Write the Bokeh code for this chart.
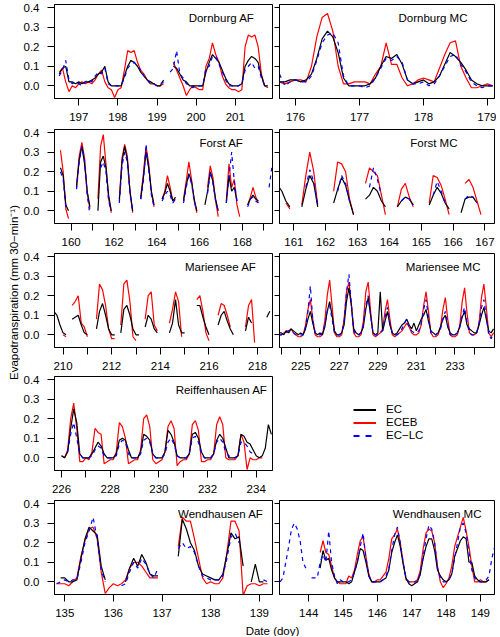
import numpy as np
from math import pi
from bokeh.plotting import figure
from bokeh.models import (Range1d, FixedTicker, Label, Legend, LegendItem,
                          CustomJSTickFormatter, PrintfTickFormatter)
from bokeh.layouts import row, column
from bokeh.embed import file_html
from bokeh.resources import INLINE

N = None

# ---------------- data (half-hourly series, resampled) ----------------
# Dornburg AF: start doy 196.5, 2-hour step
dornburg_af_start, dornburg_af_step = 196.5, 1 / 12
dornburg_af_ec = [.06, .09, .10, .02, .02, .01, .02, .01, .02, .02, .03, .04, .06,
                  .07, .10, .02, .00, .00, .00, .00,
                  .05, .10, .13, .12, .10, .07, .05, .03, .02, .01,
                  .00, .00, .03, N, N, .10, .09, .06, .03, .02,
                  .00, .00, .00, .00, .00, .07, .12, .16, .14, .12,
                  .08, .04, .01, .00, .00, .00, .01, .10, .13, .15,
                  .14, .12, .05, .00, .00]
dornburg_af_eceb = [.07, .09, .02, -.03, .00, -.01, .01, .02, .01, .02, .01, .03, .06,
                    .08, .02, -.01, -.02, -.06, -.02, -.01,
                    .08, .18, .17, .18, .12, .08, .06, .03, .01, .01,
                    .00, .00, .01, N, N, .12, .08, .04, .00, -.05,
                    -.02, .00, -.01, -.02, -.02, .10, .14, .22, .16, .12,
                    .05, .01, -.01, -.02, -.02, -.03, -.02, .20, .26, .25,
                    .26, .20, .06, .00, -.01]
dornburg_af_eclc = [.05, .08, .13, .03, .01, .02, .01, .00, .02, .03, .02, .05, .07,
                    .06, .09, .01, .00, .00, .00, .00,
                    .04, .09, .11, .12, .10, .08, .05, .03, .01, .01,
                    .00, .01, .02, N, .07, .09, .18, .06, .04, .01,
                    .00, -.01, .00, .00, .00, .09, .10, .15, .15, .11,
                    .07, .03, .00, .00, .00, .00, .01, .08, .10, .12,
                    .09, .10, .04, .00, .00]

# Dornburg MC: start 175.75, 2-hour step
dornburg_mc_start, dornburg_mc_step = 175.75, 1 / 12
dornburg_mc_ec = [.02, .02, .03, .03, .02, .03, .06, .14, .24, .28,
                  .25, .17, .04, .00, .00, .00, .00, .01, .04, .10,
                  .15, .14, .16, .11, .03, .01, .02, .03, .01, .02,
                  .05, .11, .17, .15, .12, .08, .03, .01, .00, .00, .00]
dornburg_mc_eceb = [.02, .01, .02, .03, .03, .02, .10, .25, .35, .37,
                    .28, .10, .01, .01, .02, .02, .02, .01, .06, .10,
                    .22, .11, .11, .04, .00, .01, .03, .04, .03, .02,
                    .09, .16, .22, .23, .10, .04, -.01, -.01, .00, .01, .00]
dornburg_mc_eclc = [.06, .00, .02, .03, .02, .02, .05, .13, .22, .26,
                    .27, .22, .05, .00, .00, .00, -.01, .00, .04, .09,
                    .14, .13, .15, .12, .03, .01, .01, .02, .00, .01,
                    .05, .10, .15, .16, .11, .07, .02, .00, -.01, .00, .00]

# Forst AF: start 159.5, 3-hour step
forst_af_start, forst_af_step = 159.5, 1 / 8
forst_af_ec = [.22, .18, .03, .00, N, N,
               .12, .26, .33, .24, .10, .02, N, N,
               .00, .25, .28, .22, .08, .00, N, N,
               .05, .25, .33, .26, .10, .00, N, N,
               .06, .17, .30, .22, .10, .03, N, N,
               .06, .09, .14, .10, .05, .07, N, N,
               .05, .13, .19, .15, .06, .00, N, N,
               .03, .10, .20, .15, .06, .00, N, N,
               .04, .18, .10, .12, .05, N, N, N,
               .03, .06, .08, .06, .05, N, N, N, N, N]
forst_af_eceb = [.31, .20, .01, -.04, N, N,
                 .13, .28, .35, .27, .09, .01, N, N,
                 .06, .33, .39, .24, .06, -.01, N, N,
                 .06, .27, .34, .28, .09, -.01, N, N,
                 .07, .19, .33, .24, .09, .02, N, N,
                 .06, .10, .18, .12, .05, .06, N, N,
                 .06, .15, .25, .16, .05, -.01, N, N,
                 N, .12, .23, .17, .05, -.03, N, N,
                 .05, .24, .12, .16, .03, -.03, N, N,
                 .03, .07, .12, .07, .04, N, N, N, N, N]
forst_af_eclc = [.20, .16, .02, N, N, N,
                 .11, .25, .33, .26, .08, -.02, N, N,
                 N, .22, .25, .20, .05, .00, N, N,
                 .04, .23, .30, .25, .09, .00, N, N,
                 .06, .15, .34, .21, .08, .02, N, N,
                 .05, .08, .10, .08, .04, .06, N, N,
                 .04, .12, .18, .14, .05, .00, N, N,
                 N, .09, .20, .14, .05, .00, N, N,
                 .04, .17, .30, .15, .05, N, N, N,
                 .02, .06, .07, .05, .04, N, N, N, .12, .22]

# Forst MC: start 160.5, 3-hour step
forst_mc_start, forst_mc_step = 160.5, 1 / 8
forst_mc_ec = [.13, .10, .05, .02, N, N,
               .02, .11, .18, .14, .02, N, N, N,
               .04, .11, .17, .13, .05, -.02, N, N,
               .06, .08, .12, .10, .05, .02, N, N,
               .02, .05, .07, .06, .03, N, N, N,
               .03, .08, .12, .09, .04, .01, N, N,
               -.01, .06, .07, .07, .04, N]
forst_mc_eceb = [N, N, .04, .01, N, N,
                 .03, .18, .30, .20, .03, N, N, N,
                 .10, .25, .24, .20, .06, -.02, N, N,
                 .14, .22, .20, .18, .08, -.02, N, N,
                 .02, .11, .14, .07, .02, N, N, N,
                 .04, .18, .17, .13, .06, -.02, N, N,
                 N, .14, .16, .12, .05, -.02]
forst_mc_eclc = [N, N, N, N, N, N,
                 N, .12, .21, .15, .03, N, N, N,
                 N, .10, .18, .14, .05, N, N, N,
                 N, .12, .22, .16, .08, N, N, N,
                 N, .05, .07, .06, .03, N, N, N,
                 N, .08, .15, .10, .04, N, N, N,
                 N, .06, .08, .07, .04, N]

# Mariensee AF: start 209.5, 3-hour step (no EC-LC)
mariensee_af_start, mariensee_af_step = 209.5, 1 / 8
mariensee_af_ec = [N, .12, .10, .05, .01, .00, N, .08,
                   .09, .10, .05, .01, .00, N, N, .03,
                   .12, .16, .10, .03, .00, .00, N, .01,
                   .13, .15, .10, .03, .00, .00, N, .04,
                   .10, .08, .03, .01, N, N, N, .01,
                   .06, .18, .05, .01, .01, N, N, N,
                   .15, .15, .09, .04, .00, N, N, .05,
                   .10, .12, .07, .03, .00, N, N, N,
                   .02, .09, .06, N, N, N, N, .09, .12]
mariensee_af_eceb = [N, N, N, N, .00, -.01, N, .15,
                     .17, .20, .06, .04, -.01, N, N, .08,
                     .26, .23, .15, .03, -.02, -.02, N, .05,
                     .26, .28, .17, -.01, -.03, N, N, .08,
                     .20, .22, .05, .02, N, N, N, .06,
                     .13, .22, .17, -.01, N, N, N, N,
                     .18, .20, .12, .01, -.03, N, N, .10,
                     .16, .15, .10, .04, N, N, N, N,
                     .04, .15, .18, -.04, N, N, N, N, N]

# Mariensee MC: start 223.875, 3-hour step
mariensee_mc_start, mariensee_mc_step = 223.875, 1 / 8
mariensee_mc_ec = [.01,
                   .01, .00, .02, .01, .03, .02, .01, .00,
                   .01, .00, .03, .08, .12, .06, .01, .00,
                   .01, .00, .04, .12, .17, .10, .02, .00,
                   .00, .01, .05, .17, .24, .15, .03, .01,
                   .00, .01, .04, .13, .19, .10, .01, .00,
                   .01, .22, .02, .07, .12, .05, .01, .00,
                   .01, .03, .05, .06, .08, .05, .03, .06,
                   .02, .05, .08, .10, .13, .07, .02, .01,
                   .00, .01, .04, .08, .10, .04, .01, .00,
                   .00, .01, .04, .09, .12, .05, .03, .02,
                   .01, .01, .05, .10, .14, .08, .02, .01,
                   .03]
mariensee_mc_eceb = [.00,
                     .00, .01, .02, .02, .03, .01, .00, -.01,
                     -.01, .00, .05, .13, .18, .08, .00, -.01,
                     -.01, .00, .07, .20, .28, .15, .01, -.01,
                     -.01, .00, .08, .22, .27, .16, .01, -.01,
                     -.01, .00, .07, .22, .27, .12, .00, -.01,
                     .00, .01, .03, .12, .18, .08, .00, -.01,
                     .00, .01, .02, .04, .06, .04, .01, .00,
                     .00, .01, .05, .15, .22, .12, .01, -.01,
                     -.01, .00, .04, .13, .19, .08, .00, -.01,
                     -.01, .00, .05, .17, .24, .11, .01, .00,
                     .00, .01, .06, .19, .26, .14, .01, -.01,
                     .01]
mariensee_mc_eclc = [.00,
                     .00, .01, .01, .02, .02, .01, .00, .00,
                     .00, .00, .04, .12, .25, .08, .01, .00,
                     .00, .01, .05, .12, .15, .08, .01, .00,
                     .00, .01, .07, .22, .31, .16, .02, .00,
                     .00, .01, .05, .15, .20, .10, .01, .00,
                     .00, .01, .02, .09, .14, .06, .01, .00,
                     .00, .01, .03, .06, .08, .04, .02, .01,
                     .01, .02, .06, .13, .18, .09, .01, .00,
                     .00, .01, .03, .08, .12, .05, .00, .00,
                     .00, .01, .04, .10, .14, .06, .01, .00,
                     .00, .01, .06, .14, .18, .09, .00, -.02,
                     .01]

# Reiffenhausen AF: start 226.0, 3-hour step
reiffenhausen_af_start, reiffenhausen_af_step = 226.0, 1 / 8
reiffenhausen_af_ec = [.01, .00, .03, .15, .25, .18, .02, .00,
                       .00, .00, .02, .05, .08, .06, .02, .00,
                       .00, .00, .02, .09, .10, .09, .04, .00,
                       .00, .00, .03, .12, .11, .09, .02, .00,
                       .00, .00, .03, .14, .12, .08, .01, .00,
                       .00, .00, .02, .12, .13, .10, .03, .00,
                       .00, .00, .02, .09, .12, .10, .05, .00,
                       .00, .00, .01, .12, .11, .08, .07, .04,
                       .01, .00, .01, .05, .17, .12]
reiffenhausen_af_eceb = [.01, .00, .04, .20, .28, .15, -.02, -.02,
                         .00, -.01, .03, .15, .13, .12, -.03, -.02,
                         -.01, -.01, .03, .18, .16, .10, -.03, -.02,
                         -.01, -.01, .04, .20, .22, .16, -.01, -.03,
                         -.02, -.01, .03, .16, .19, .15, -.04, -.02,
                         -.01, -.01, .02, .17, .19, .14, -.02, -.02,
                         -.01, -.01, .02, .17, .21, .17, .00, -.01,
                         -.01, -.01, .01, .12, .08, -.06, .00, -.01,
                         -.01, .00, .00, N, N, N]
reiffenhausen_af_eclc = [N, N, .03, .12, .18, .10, .02, .00,
                         .00, .00, .01, .04, .06, .05, .01, .00,
                         .00, .00, .01, .07, .09, .08, .02, .00,
                         .00, .00, .02, .09, .10, .08, .02, .00,
                         .00, .00, .02, .08, .10, .07, .01, .00,
                         .00, .00, .02, .10, .11, .08, .02, .00,
                         .00, .00, .02, .08, .10, .08, .03, .01,
                         .00, .00, .01, .08, .08, .06, .03, .02,
                         N, N, N, N, N, N]

# Wendhausen AF: start 134.75, 2-hour step
wendhausen_af_start, wendhausen_af_step = 134.75, 1 / 12
wendhausen_af_ec = [N, N, .02, .02, .00, .00, .01, .12, .22, .28,
                    .26, .24, .08, .01, N, N, N, N, .00, .07,
                    .12, .08, .14, .10, .04, .03, .03, N, N, N,
                    N, .13, .32, .27, .20, .16, .08, .04, .03, .02,
                    .01, .01, .04, .14, .25, .22, .23, .08, N, .00,
                    .09, .00, .00, N, N]
wendhausen_af_eceb = [N, -.01, -.01, -.01, -.02, .00, .02, .13, .21, .27,
                      .28, .22, .05, -.06, -.03, -.01, -.02, -.01, .01, .07,
                      .10, .10, .08, .05, .02, .02, .02, N, N, N,
                      N, .18, .33, .31, .31, .22, .12, .02, -.01, .00,
                      -.01, -.01, .02, .15, .31, .31, .26, -.07, -.02, -.01,
                      -.01, -.02, -.01, -.01, N]
wendhausen_af_eclc = [N, -.01, .00, .01, .00, .01, .01, .10, .20, .26,
                      .33, .22, .06, .00, N, N, N, -.02, -.01, .05,
                      .10, .07, .12, .09, .04, .02, .07, N, N, N,
                      N, .17, .20, .17, .18, .15, .08, .03, .02, .01,
                      .01, .01, .03, .12, .23, .25, .20, N, N, N,
                      N, N, .01, .00, N]

# Wendhausen MC: start 143.1667, 2-hour step
wendhausen_mc_start, wendhausen_mc_step = 143.1667, 1 / 12
wendhausen_mc_ec = [N, N, N, N, N, N, N, N, N, N, N, N, N, N,
                    .07, .16, .11, .12, .06, .02, .00, .00, .00, .00,
                    -.01, .00, .05, .10, .17, .16, .10, .03, .00, .00,
                    .00, .00, .01, .02, .06, .15, .20, .24, .18, .09,
                    .02, -.01, -.02, -.01, .00, .04, .12, .18, .22, .22,
                    .16, .06, .03, .01, .00, .01, .04, .13, .17, .21,
                    .23, .22, .10, .10, .03, .01, .00, .00, .00, .01, N, N]
wendhausen_mc_eceb = [N, N, N, N, N, N, N, N, N, N, N, N, N, N,
                      .15, .21, .15, .14, .08, .02, .00, -.01, -.01, -.01,
                      .03, .02, .06, .14, .21, .23, .13, .04, .00, .00,
                      .01, .01, .03, .05, .12, .22, .24, .27, .20, .10,
                      .01, .00, .00, .00, .01, .06, .17, .25, .27, .26,
                      .20, .08, .00, -.03, -.01, .02, .08, .18, .23, .28,
                      .33, .26, .18, .08, .00, .00, .01, .00, .00, .01, N, N]
wendhausen_mc_eclc = [.00, .02, .10, .18, .27, .30, .27, .21, .10, .07, N, .02, .02, .02,
                      .10, .14, .10, .26, .10, .03, -.01, .01, .00, .00,
                      .00, .01, .05, .10, .18, .25, .12, .03, .00, .00,
                      .00, .00, .01, .03, .07, .16, .24, .28, .20, .10,
                      .02, .00, .00, .00, .00, .04, .13, .22, .29, .27,
                      .20, .07, .02, .00, .00, .01, .04, .12, .20, .28,
                      .30, .25, .15, .06, .02, .00, .00, .00, .01, .03, .12, .18]

series_labels = ["EC", "ECEB", "EC\u2212LC"]
y_ticks = [0.0, 0.1, 0.2, 0.3, 0.4]

# ---------------- styling ----------------
FONT = "Liberation Sans"
FS = "11.5px"
Y_RANGE = (-0.065, 0.416)
C_EC, C_ECEB, C_ECLC = "#000000", "#FF0000", "#0000FF"
LW = 1.2
YT_W = 20                           # width of the y-title column
LEFT_W, RIGHT_W = 254, 222          # figure widths (frames 215 px each)
ROW_H = [126, 125, 124, 123, 124]   # figure heights (frames 94 px each)
ROW_TOP = [4, 3, 2, 1, 2]           # top borders
FRAME = 94


def arr(v):
    return np.array([np.nan if x is None else x for x in v], dtype=float)


def base_fig(side, ri, **kw):
    if side == "left":
        w, mbl = LEFT_W, 17
    else:
        w, mbl = RIGHT_W, 5
    h, top = ROW_H[ri], ROW_TOP[ri]
    return figure(output_backend="svg", toolbar_location=None, title=None,
                  width=w, height=h,
                  min_border_left=mbl, min_border_right=2,
                  min_border_top=top, min_border_bottom=h - top - FRAME,
                  background_fill_color="white", border_fill_color="white", **kw)


def panel(title, pad, start, step, ec, eceb, eclc, xr, major, minor, side, ri):
    p = base_fig(side, ri, x_range=Range1d(*xr), y_range=Range1d(*Y_RANGE),
                 outline_line_color="black", outline_line_width=1, outline_line_alpha=1)
    p.grid.visible = False
    for data, col, dash in ((eceb, C_ECEB, "solid"), (ec, C_EC, "solid"), (eclc, C_ECLC, "4 4")):
        if data is None:
            continue
        y = arr(data)
        t = start + np.arange(len(y)) * step
        p.line(t, y, line_color=col, line_width=LW, line_dash=dash)

    xa = p.xaxis[0]
    xa.ticker = FixedTicker(ticks=major, minor_ticks=minor)
    xa.major_tick_in = 0
    xa.major_tick_out = 7
    xa.minor_tick_in = 0
    xa.minor_tick_out = 7
    xa.major_tick_line_color = "black"
    xa.minor_tick_line_color = "black"
    xa.axis_line_color = "black"
    xa.major_label_standoff = 7
    xa.major_label_text_font = FONT
    xa.major_label_text_font_size = FS
    xa.major_label_text_color = "black"

    ya = p.yaxis[0]
    ya.ticker = FixedTicker(ticks=y_ticks)
    ya.minor_tick_line_color = None
    ya.major_tick_in = 0
    ya.major_tick_line_color = "black"
    ya.axis_line_color = "black"
    if side == "left":
        ya.major_tick_out = 7
        ya.major_label_standoff = 8
        ya.formatter = PrintfTickFormatter(format="%.1f")
        ya.major_label_text_font = FONT
        ya.major_label_text_font_size = FS
        ya.major_label_text_color = "black"
    else:
        ya.major_tick_out = 5
        ya.major_label_standoff = 0
        ya.formatter = CustomJSTickFormatter(code="return ''")

    p.add_layout(Label(x=215 - pad, y=FRAME - 13, x_units="screen", y_units="screen",
                       text=title, text_align="right", text_baseline="alphabetic",
                       text_font=FONT, text_font_size=FS, text_color="black"))
    return p


p1 = panel("Dornburg AF", 15, dornburg_af_start, dornburg_af_step,
           dornburg_af_ec, dornburg_af_eceb, dornburg_af_eclc,
           (196.38, 201.95), [197, 198, 199, 200, 201], [], "left", 0)
p2 = panel("Dornburg MC", 27, dornburg_mc_start, dornburg_mc_step,
           dornburg_mc_ec, dornburg_mc_eceb, dornburg_mc_eclc,
           (175.75, 179.11), [176, 177, 178, 179], [], "right", 0)
p3 = panel("Forst AF", 26, forst_af_start, forst_af_step,
           forst_af_ec, forst_af_eceb, forst_af_eclc,
           (159.22, 169.41), [160, 162, 164, 166, 168], [161, 163, 165, 167, 169], "left", 1)
p4 = panel("Forst MC", 37, forst_mc_start, forst_mc_step,
           forst_mc_ec, forst_mc_eceb, forst_mc_eclc,
           (160.55, 167.30), [161, 162, 163, 164, 165, 166, 167], [], "right", 1)
p5 = panel("Mariensee AF", 13, mariensee_af_start, mariensee_af_step,
           mariensee_af_ec, mariensee_af_eceb, None,
           (209.65, 218.61), [210, 212, 214, 216, 218], [211, 213, 215, 217], "left", 2)
p6 = panel("Mariensee MC", 14, mariensee_mc_start, mariensee_mc_step,
           mariensee_mc_ec, mariensee_mc_eceb, mariensee_mc_eclc,
           (223.90, 235.05), [225, 227, 229, 231, 233], [224, 226, 228, 230, 232, 234], "right", 2)
p7 = panel("Reiffenhausen AF", 2, reiffenhausen_af_start, reiffenhausen_af_step,
           reiffenhausen_af_ec, reiffenhausen_af_eceb, reiffenhausen_af_eclc,
           (225.71, 234.67), [226, 228, 230, 232, 234], [227, 229, 231, 233], "left", 3)
p9 = panel("Wendhausen AF", 6, wendhausen_af_start, wendhausen_af_step,
           wendhausen_af_ec, wendhausen_af_eceb, wendhausen_af_eclc,
           (134.79, 139.27), [135, 136, 137, 138, 139], [], "left", 4)
p10 = panel("Wendhausen MC", 13, wendhausen_mc_start, wendhausen_mc_step,
            wendhausen_mc_ec, wendhausen_mc_eceb, wendhausen_mc_eclc,
            (143.15, 149.41), [144, 145, 146, 147, 148, 149], [], "right", 4)

# legend panel (row 4, right slot) -- same borders as its row neighbour
leg = base_fig("right", 3, x_range=Range1d(0, 1), y_range=Range1d(0, 1),
               x_axis_location=None, y_axis_location=None, outline_line_color=None)
leg.grid.visible = False
r_ec = leg.line(x=[5, 6], y=[5, 6], line_color=C_EC, line_width=2)
r_eceb = leg.line(x=[5, 6], y=[5, 6], line_color=C_ECEB, line_width=2)
r_eclc = leg.line(x=[5, 6], y=[5, 6], line_color=C_ECLC, line_width=2, line_dash="6 6")
legend = Legend(items=[LegendItem(label=series_labels[0], renderers=[r_ec]),
                       LegendItem(label=series_labels[1], renderers=[r_eceb]),
                       LegendItem(label=series_labels[2], renderers=[r_eclc])],
                location=(74, 28.5), glyph_width=23, glyph_height=13, label_height=13,
                label_standoff=10, spacing=0, padding=0, margin=0,
                border_line_color=None, background_fill_alpha=0,
                label_text_font=FONT, label_text_font_size=FS, label_text_color="black")
leg.add_layout(legend)

TOTAL_H = sum(ROW_H) + 14

# y-axis title
yl = figure(output_backend="svg", toolbar_location=None, title=None, width=YT_W, height=TOTAL_H,
            min_border=0, x_range=Range1d(0, 1), y_range=Range1d(0, 1),
            x_axis_location=None, y_axis_location=None, outline_line_color=None)
yl.grid.visible = False
yl.add_layout(Label(x=13, y=TOTAL_H - 292, x_units="screen", y_units="screen", angle=pi / 2,
                    text="Evapotranspiration (mm 30\u2212min\u207b\u00b9)",
                    text_align="center", text_baseline="middle",
                    text_font=FONT, text_font_size=FS, text_color="black"))

# x-axis title
xl = figure(output_backend="svg", toolbar_location=None, title=None,
            width=LEFT_W + RIGHT_W, height=14,
            min_border=0, x_range=Range1d(0, 1), y_range=Range1d(0, 1),
            x_axis_location=None, y_axis_location=None, outline_line_color=None)
xl.grid.visible = False
xl.add_layout(Label(x=252, y=6, x_units="screen", y_units="screen",
                    text="Date (doy)", text_align="center", text_baseline="alphabetic",
                    text_font=FONT, text_font_size=FS, text_color="black"))

grid = column(row(p1, p2), row(p3, p4), row(p5, p6), row(p7, leg), row(p9, p10), xl)
layout = row(yl, grid)

open("out.html", "w").write(file_html(layout, INLINE))
